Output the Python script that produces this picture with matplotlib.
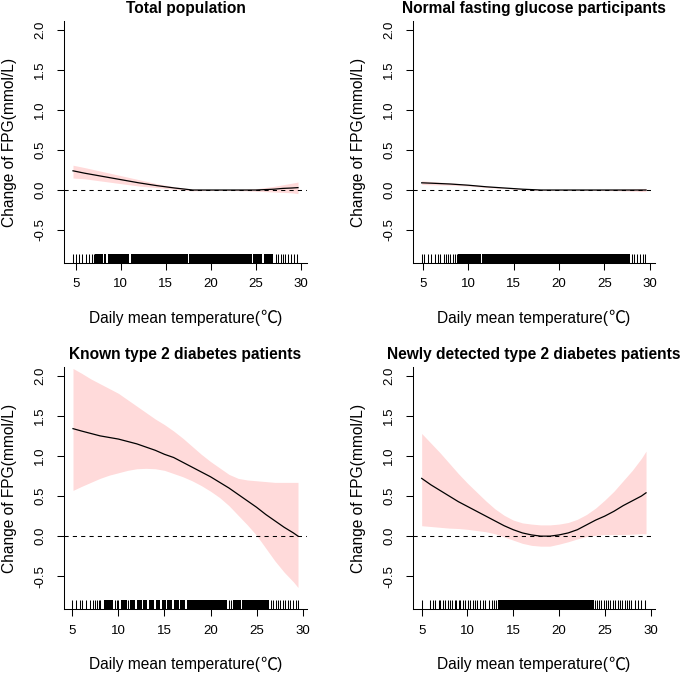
import matplotlib
matplotlib.use("Agg")
import matplotlib.pyplot as plt
from matplotlib.offsetbox import TextArea, HPacker, AnnotationBbox

# ---------------- data ----------------
titles = ["Total population", "Normal fasting glucose participants",
          "Known type 2 diabetes patients", "Newly detected type 2 diabetes patients"]
xlabel_parts = ["Daily mean temperature(", "\u2103", ")"]
ylabel = "Change of FPG(mmol/L)"
xticks = [5, 10, 15, 20, 25, 30]
yticks = [-0.5, 0.0, 0.5, 1.0, 1.5, 2.0]
ytick_labels = ["-0.5", "0.0", "0.5", "1.0", "1.5", "2.0"]

# Panel 1: total population
x1 = [4.7, 6, 8, 10, 12, 14, 16, 18, 20, 22, 24, 25, 26, 27, 28, 29, 29.7]
fit1 = [0.24, 0.21, 0.17, 0.13, 0.09, 0.055, 0.025, 0.0, 0.0, 0.0, 0.0, 0.0, 0.005, 0.01, 0.02, 0.025, 0.03]
up1 = [0.31, 0.28, 0.23, 0.18, 0.13, 0.08, 0.04, 0.01, 0.005, 0.005, 0.01, 0.015, 0.03, 0.045, 0.065, 0.085, 0.10]
lo1 = [0.15, 0.14, 0.11, 0.08, 0.05, 0.03, 0.01, -0.01, -0.005, -0.005, -0.01, -0.015, -0.02, -0.025, -0.03, -0.035, -0.045]
rug1_single = [4.7, 5.0, 5.4, 5.75, 6.1, 6.45, 6.8, 7.0,
               27.2, 27.48, 27.78, 28.0, 28.3, 28.6, 28.9, 29.2, 29.6]
rug1_dense = [(7.1, 8.0), (8.1, 8.4), (8.55, 10.95), (11.1, 17.45), (17.6, 24.6),
              (24.7, 25.75), (25.9, 26.9)]

# Panel 2: normal fasting glucose
x2 = [4.85, 6, 8, 10, 12, 14, 16, 18, 20, 22, 24, 26, 28, 29.6]
fit2 = [0.09, 0.085, 0.075, 0.06, 0.04, 0.025, 0.01, 0.0, 0.0, 0.0, 0.0, 0.0, 0.0, 0.0]
up2 = [0.115, 0.105, 0.09, 0.07, 0.05, 0.03, 0.015, 0.005, 0.003, 0.003, 0.005, 0.008, 0.013, 0.02]
lo2 = [0.07, 0.065, 0.06, 0.05, 0.03, 0.02, 0.005, -0.005, -0.003, -0.003, -0.005, -0.008, -0.013, -0.02]
rug2_single = [4.85, 5.15, 5.6, 5.9, 6.3, 6.6, 6.85, 7.3, 7.5, 7.7, 7.95, 8.3, 8.5, 8.7,
               28.0, 28.3, 28.6, 28.95, 29.25, 29.5]
rug2_dense = [(8.85, 11.35), (11.5, 27.85)]

# Panel 3: known type 2 diabetes
x3 = [5.07, 6, 7, 8, 9, 10, 11, 12, 13, 14, 15, 16, 17, 18, 19, 20, 21, 22, 23, 24, 25, 26, 27, 28, 29, 29.5]
fit3 = [1.34, 1.31, 1.28, 1.25, 1.23, 1.21, 1.18, 1.15, 1.11, 1.07, 1.02, 0.98, 0.92, 0.86, 0.80, 0.74,
        0.67, 0.60, 0.52, 0.44, 0.36, 0.27, 0.19, 0.11, 0.04, 0.0]
up3 = [2.09, 2.03, 1.96, 1.90, 1.84, 1.78, 1.70, 1.62, 1.54, 1.46, 1.39, 1.31, 1.22, 1.12, 1.02, 0.93,
       0.85, 0.77, 0.72, 0.70, 0.69, 0.68, 0.67, 0.67, 0.67, 0.67]
lo3 = [0.57, 0.62, 0.67, 0.72, 0.76, 0.79, 0.82, 0.84, 0.845, 0.84, 0.82, 0.78, 0.74, 0.69, 0.63, 0.56,
       0.48, 0.38, 0.26, 0.14, 0.01, -0.15, -0.31, -0.45, -0.57, -0.64]
rug3_single = [5.0, 5.36, 5.8, 6.1, 6.5, 6.95, 7.25, 7.5, 7.7, 7.9, 8.05, 9.62, 9.8, 10.0, 11.08,
               21.99, 22.25, 26.62, 26.83, 27.09, 27.34, 27.56, 27.82, 28.07, 28.36, 28.65,
               28.91, 29.27, 29.5]
rug3_dense = [(8.46, 9.44), (10.24, 10.9), (11.26, 11.8), (11.99, 12.53), (12.71, 13.15),
              (13.37, 13.88), (14.1, 14.53), (14.72, 15.19), (15.33, 15.81), (15.99, 16.54),
              (16.72, 17.26), (17.45, 21.81), (22.47, 23.27), (23.45, 26.36)]

# Panel 4: newly detected type 2 diabetes
x4 = [5.0, 6, 7, 8, 9, 10, 11, 12, 13, 14, 15, 16, 17, 18, 19, 20, 21, 22, 23, 24, 25, 26, 27, 28, 29, 29.5]
fit4 = [0.72, 0.64, 0.57, 0.50, 0.43, 0.37, 0.31, 0.25, 0.19, 0.13, 0.08, 0.04, 0.015, 0.0, 0.0, 0.015,
        0.04, 0.08, 0.14, 0.20, 0.25, 0.31, 0.38, 0.44, 0.50, 0.54]
up4 = [1.28, 1.16, 1.04, 0.91, 0.78, 0.66, 0.55, 0.44, 0.34, 0.26, 0.20, 0.165, 0.15, 0.14, 0.14, 0.15,
       0.17, 0.21, 0.27, 0.35, 0.45, 0.56, 0.69, 0.82, 0.97, 1.06]
lo4 = [0.13, 0.12, 0.11, 0.10, 0.095, 0.085, 0.07, 0.055, 0.03, -0.01, -0.05, -0.09, -0.115, -0.125,
       -0.125, -0.10, -0.07, -0.035, -0.005, 0.01, 0.02, 0.02, 0.02, 0.025, 0.03, 0.03]
rug4_single = [5.04, 5.95, 6.2, 6.42, 6.86, 7.04, 7.29, 7.58, 7.87, 8.13, 8.31, 8.6, 8.78, 9.04, 9.22,
               9.51, 9.77, 10.06, 10.31, 10.57, 10.86, 11.04, 11.4, 11.66, 11.95, 12.31, 12.68,
               12.86, 13.11, 23.96, 24.14, 24.32, 24.61, 24.87, 25.12, 25.34, 25.6, 25.85, 26.14,
               26.43, 26.69, 26.87, 27.16, 27.42, 27.67, 27.89, 28.33, 28.62, 28.98, 29.42]
rug4_dense = [(13.33, 23.78)]

panels = [
    (x1, fit1, up1, lo1, rug1_single, rug1_dense),
    (x2, fit2, up2, lo2, rug2_single, rug2_dense),
    (x3, fit3, up3, lo3, rug3_single, rug3_dense),
    (x4, fit4, up4, lo4, rug4_single, rug4_dense),
]

# ---------------- style ----------------
FONT = ["Liberation Sans", "Noto Sans CJK SC", "DejaVu Sans"]
CJK = ["Noto Sans CJK SC", "DejaVu Sans"]
plt.rcParams["font.family"] = FONT
BAND = "#FFDADA"
W, H = 685, 676
fig = plt.figure(figsize=(W / 100, H / 100), dpi=100)

# pixel boxes: (left, right, top, bottom)
boxes = [(64, 307, 21, 263), (412.7, 655, 21, 263),
         (64, 307, 366.7, 609.3), (412.7, 655, 366.7, 609.3)]

ymin_d, ymax_d = -0.8, 2.0
ypad = 0.04 * (ymax_d - ymin_d)
LABEL_FS = 11.2

for i, ((x, fit, up, lo, rs, rd), (l, r, t, b)) in enumerate(zip(panels, boxes)):
    ax = fig.add_axes([l / W, 1 - b / H, (r - l) / W, (b - t) / H])
    hpx = b - t
    xpad = 0.04 * (max(x) - min(x))
    ax.set_xlim(min(x) - xpad, max(x) + xpad)
    ax.set_ylim(ymin_d - ypad, ymax_d + ypad)

    ax.fill_between(x, lo, up, color=BAND, lw=0, zorder=1)
    ax.axhline(0, color="black", lw=0.75, ls=(0, (4, 4)), zorder=2)
    ax.plot(x, fit, color="black", lw=0.9, zorder=3)

    rug_h = 0.038
    ax.vlines(rs, 0, rug_h, transform=ax.get_xaxis_transform(), color="black", lw=0.75, zorder=4)
    for a, c in rd:
        ax.axvspan(a, c, ymin=0, ymax=rug_h, color="black", lw=0, zorder=4)

    for s in ["top", "right"]:
        ax.spines[s].set_visible(False)
    for s in ["left", "bottom"]:
        ax.spines[s].set_linewidth(0.75)

    ax.set_xticks(xticks)
    ax.set_xticklabels([str(v) for v in xticks])
    ax.set_yticks(yticks)
    ax.set_yticklabels(ytick_labels)
    ax.tick_params(axis="both", direction="out", length=5, width=0.75, labelsize=9.5)
    ax.tick_params(axis="x", pad=6)
    ax.tick_params(axis="y", pad=12)
    for lab in ax.get_yticklabels():
        lab.set_rotation(90)
        lab.set_ha("center")
        lab.set_va("center")

    ax.text(0.5, 1 + 8 / hpx, titles[i], transform=ax.transAxes, ha="center", va="baseline",
            fontsize=11.2, fontweight="bold")

    # x label with a full-width degree sign
    parts = [
        TextArea(xlabel_parts[0], textprops=dict(fontsize=LABEL_FS, family=FONT)),
        TextArea(xlabel_parts[1], textprops=dict(fontsize=LABEL_FS * 1.1, family=CJK)),
        TextArea(xlabel_parts[2], textprops=dict(fontsize=LABEL_FS, family=FONT)),
    ]
    pack = HPacker(children=parts, sep=0, pad=0, align="baseline")
    ab = AnnotationBbox(pack, (0.5, -55 / hpx), xycoords="axes fraction",
                        box_alignment=(0.5, 0.5), frameon=False, pad=0,
                        annotation_clip=False)
    ax.add_artist(ab)

    ax.text(-54 / (r - l), 0.5, ylabel, transform=ax.transAxes, ha="center", va="center",
            rotation=90, fontsize=LABEL_FS)

fig.savefig("out.png", dpi=100)
